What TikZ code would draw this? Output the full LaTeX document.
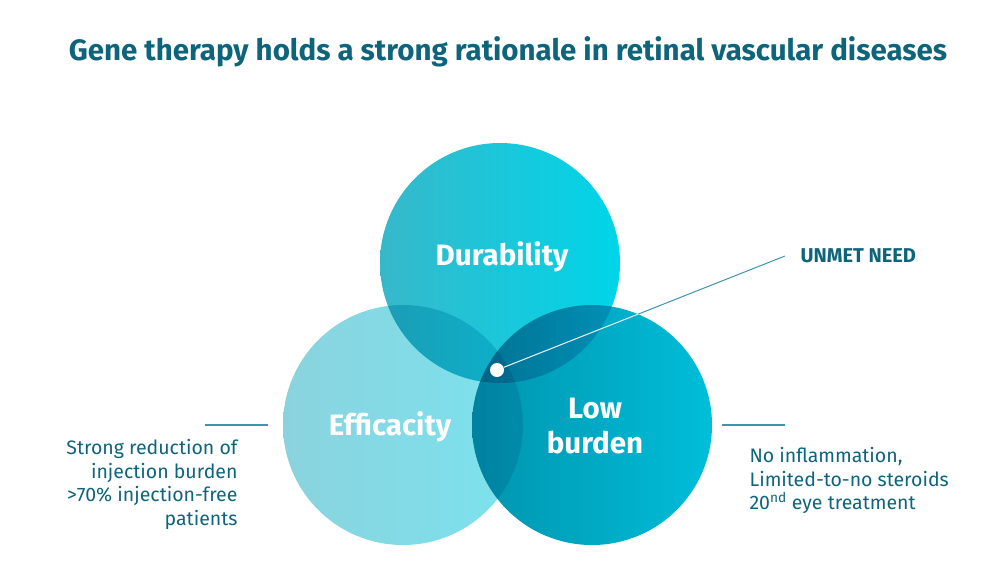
\documentclass[tikz,border=0pt]{standalone}
\usepackage{fontspec}
\setmainfont{Fira Sans}
\usepackage{tikz}
\definecolor{headline}{RGB}{14,100,122}
\definecolor{leader}{RGB}{60,150,175}
\definecolor{durA}{RGB}{55,184,202}
\definecolor{durB}{RGB}{0,213,233}
\definecolor{effA}{RGB}{138,211,222}
\definecolor{effB}{RGB}{122,227,238}
\definecolor{lowA}{RGB}{0,148,174}
\definecolor{lowB}{RGB}{0,190,217}

\begin{document}
\begin{tikzpicture}[x=1pt,y=-1pt,
    bubble/.style={circle,minimum size=240pt,inner sep=0pt,shading=axis,shading angle=90},
    bubbletext/.style={text=white,font=\bfseries\fontsize{29.5}{35}\selectfont,align=center},
    sidetext/.style={text=headline,font=\fontsize{19.5}{23.5}\selectfont}]
        \useasboundingbox (0,0) rectangle (988,574);
        \node[text=headline,font=\bfseries\fontsize{29.5}{34}\selectfont] (title) at (508,52) {Gene therapy holds a strong rationale in retinal vascular diseases};
        % three circles, darker where they overlap
        \begin{scope}[blend mode=multiply]
            \node[bubble,left color=effA,right color=effB] (effC) at (403,425) {};
            \node[bubble,left color=lowA,right color=lowB] (lowC) at (592,425) {};
            \node[bubble,left color=durA,right color=durB] (durC) at (500,263) {};
        \end{scope}
        \node[bubbletext] (durT) at (502,257) {Durability};
        \node[bubbletext] (effT) at (390,427) {Efficacity};
        \node[bubbletext] (lowT) at (595,426) {Low\\burden};
        % unmet need marker
        \node[circle,fill=white,minimum size=14pt,inner sep=0pt] (need) at (497,370) {};
        \coordinate (needEnd) at (785,256);
        \draw[leader,line width=1pt] (need) -- (needEnd);
        \begin{scope}
            \clip (lowC.center) circle (120);
            \draw[white!85!leader,line width=1pt] (need) -- (needEnd);
        \end{scope}
        \node[anchor=west,text=headline,font=\bfseries\fontsize{20}{24}\selectfont] (needT) at (797,256) {UNMET NEED};
        % side notes
        \coordinate (effL) at (205,425);
        \coordinate (effR) at (268,425);
        \draw[leader,line width=1.5pt] (effL) -- (effR);
        \node[sidetext,anchor=north east,align=right] (effN) at (241,436) {Strong reduction of\\injection burden\\>70\% injection-free\\patients};
        \coordinate (lowL) at (722,425);
        \coordinate (lowR) at (785,425);
        \draw[leader,line width=1.5pt] (lowL) -- (lowR);
        \node[sidetext,anchor=north west,align=left] (lowN) at (746,444) {No inflammation,\\Limited-to-no steroids\\20\textsuperscript{nd} eye treatment};
    \end{tikzpicture}
\end{document}
